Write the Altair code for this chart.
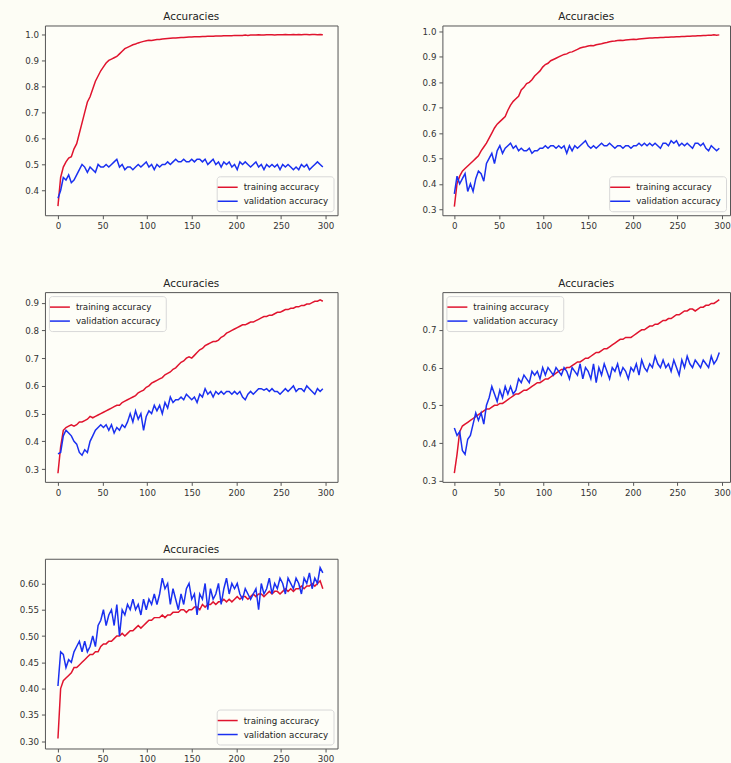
import altair as alt
import pandas as pd

epochs = list(range(0, 300, 3))
series_names = ["training accuracy", "validation accuracy"]
x_ticks = [0, 50, 100, 150, 200, 250, 300]

train_1 = [
    0.34, 0.45, 0.49, 0.51, 0.525, 0.53, 0.56, 0.58, 0.62, 0.66,
    0.70, 0.74, 0.76, 0.79, 0.82, 0.84, 0.86, 0.875, 0.89, 0.90,
    0.905, 0.91, 0.915, 0.925, 0.935, 0.945, 0.95, 0.955, 0.96, 0.963,
    0.967, 0.97, 0.973, 0.975, 0.977, 0.976, 0.978, 0.98, 0.98, 0.982,
    0.983, 0.984, 0.985, 0.986, 0.986, 0.987, 0.988, 0.988, 0.989, 0.99,
    0.99, 0.991, 0.991, 0.991, 0.992, 0.992, 0.993, 0.993, 0.993, 0.994,
    0.994, 0.994, 0.995, 0.995, 0.995, 0.995, 0.996, 0.996, 0.996, 0.996,
    0.997, 0.996, 0.997, 0.997, 0.997, 0.998, 0.997, 0.997, 0.998, 0.998,
    0.998, 0.997, 0.998, 0.998, 0.998, 0.999, 0.998, 0.998, 0.999, 0.998,
    0.999, 0.998, 0.999, 0.999, 0.998, 0.999, 0.999, 0.998, 0.999, 0.998,
]
val_1 = [
    0.37, 0.40, 0.45, 0.44, 0.46, 0.43, 0.44, 0.46, 0.48, 0.50,
    0.49, 0.47, 0.49, 0.48, 0.47, 0.50, 0.49, 0.49, 0.50, 0.49,
    0.50, 0.51, 0.52, 0.49, 0.50, 0.48, 0.49, 0.49, 0.48, 0.49,
    0.50, 0.49, 0.50, 0.51, 0.49, 0.50, 0.48, 0.50, 0.49, 0.50,
    0.50, 0.51, 0.50, 0.51, 0.52, 0.51, 0.51, 0.52, 0.51, 0.51,
    0.52, 0.51, 0.52, 0.52, 0.51, 0.52, 0.50, 0.51, 0.52, 0.50,
    0.51, 0.49, 0.51, 0.50, 0.51, 0.49, 0.50, 0.48, 0.51, 0.50,
    0.51, 0.50, 0.49, 0.50, 0.51, 0.49, 0.50, 0.48, 0.50, 0.49,
    0.50, 0.49, 0.50, 0.48, 0.50, 0.49, 0.50, 0.49, 0.48, 0.49,
    0.48, 0.50, 0.49, 0.50, 0.48, 0.49, 0.50, 0.51, 0.50, 0.49,
]

train_2 = [
    0.31, 0.40, 0.43, 0.45, 0.46, 0.47, 0.48, 0.49, 0.50, 0.51,
    0.53, 0.545, 0.56, 0.58, 0.60, 0.62, 0.635, 0.645, 0.655, 0.665,
    0.69, 0.71, 0.725, 0.735, 0.745, 0.77, 0.78, 0.795, 0.80, 0.81,
    0.825, 0.835, 0.845, 0.86, 0.87, 0.875, 0.885, 0.89, 0.895, 0.90,
    0.905, 0.91, 0.912, 0.918, 0.92, 0.925, 0.93, 0.935, 0.938, 0.94,
    0.943, 0.945, 0.944, 0.948, 0.95, 0.952, 0.955, 0.957, 0.96, 0.962,
    0.963, 0.965, 0.966, 0.965, 0.967, 0.968, 0.969, 0.97, 0.969, 0.971,
    0.972, 0.973, 0.974, 0.975, 0.975, 0.976, 0.976, 0.977, 0.977, 0.978,
    0.978, 0.979, 0.979, 0.98, 0.98, 0.981, 0.981, 0.982, 0.982, 0.983,
    0.983, 0.984, 0.984, 0.985, 0.985, 0.986, 0.986, 0.987, 0.986, 0.987,
]
val_2 = [
    0.36, 0.43, 0.40, 0.42, 0.44, 0.37, 0.40, 0.37, 0.42, 0.45,
    0.44, 0.41, 0.48, 0.50, 0.52, 0.48, 0.53, 0.55, 0.52, 0.54,
    0.55, 0.56, 0.54, 0.55, 0.53, 0.54, 0.53, 0.53, 0.54, 0.52,
    0.53, 0.53, 0.54, 0.54, 0.55, 0.54, 0.55, 0.55, 0.54, 0.55,
    0.54, 0.55, 0.52, 0.55, 0.53, 0.55, 0.54, 0.55, 0.56, 0.57,
    0.55, 0.54, 0.55, 0.54, 0.55, 0.56, 0.55, 0.55, 0.56, 0.55,
    0.54, 0.55, 0.55, 0.54, 0.55, 0.55, 0.54, 0.55, 0.55, 0.56,
    0.55, 0.56, 0.55, 0.56, 0.55, 0.56, 0.55, 0.54, 0.56, 0.56,
    0.55, 0.57, 0.56, 0.57, 0.55, 0.56, 0.55, 0.56, 0.55, 0.54,
    0.56, 0.56, 0.55, 0.56, 0.54, 0.53, 0.55, 0.54, 0.53, 0.54,
]

train_3 = [
    0.285, 0.38, 0.44, 0.45, 0.455, 0.46, 0.455, 0.46, 0.47, 0.47,
    0.475, 0.48, 0.49, 0.485, 0.49, 0.495, 0.50, 0.505, 0.51, 0.515,
    0.52, 0.525, 0.53, 0.53, 0.54, 0.545, 0.55, 0.555, 0.56, 0.565,
    0.575, 0.58, 0.585, 0.595, 0.60, 0.61, 0.615, 0.62, 0.625, 0.63,
    0.64, 0.645, 0.65, 0.66, 0.665, 0.675, 0.685, 0.69, 0.70, 0.705,
    0.70, 0.71, 0.72, 0.73, 0.735, 0.745, 0.75, 0.755, 0.76, 0.76,
    0.765, 0.775, 0.78, 0.79, 0.795, 0.80, 0.805, 0.81, 0.815, 0.82,
    0.82, 0.825, 0.83, 0.83, 0.835, 0.84, 0.845, 0.85, 0.85, 0.855,
    0.855, 0.86, 0.865, 0.865, 0.87, 0.875, 0.875, 0.88, 0.88, 0.885,
    0.885, 0.89, 0.89, 0.895, 0.895, 0.90, 0.905, 0.905, 0.91, 0.905,
]
val_3 = [
    0.355, 0.36, 0.42, 0.44, 0.43, 0.42, 0.40, 0.39, 0.36, 0.35,
    0.37, 0.36, 0.40, 0.42, 0.44, 0.45, 0.46, 0.45, 0.46, 0.44,
    0.46, 0.43, 0.45, 0.44, 0.46, 0.45, 0.47, 0.50, 0.47, 0.51,
    0.48, 0.50, 0.44, 0.49, 0.51, 0.50, 0.53, 0.51, 0.53, 0.50,
    0.54, 0.52, 0.56, 0.54, 0.55, 0.55, 0.56, 0.55, 0.57, 0.56,
    0.55, 0.56, 0.54, 0.57, 0.56, 0.59, 0.57, 0.58, 0.56, 0.58,
    0.57, 0.58, 0.57, 0.58, 0.58, 0.57, 0.58, 0.57, 0.58, 0.56,
    0.55, 0.57, 0.58, 0.57, 0.58, 0.59, 0.59, 0.585, 0.59, 0.58,
    0.59, 0.58, 0.58, 0.57, 0.58, 0.59, 0.58, 0.59, 0.60, 0.58,
    0.59, 0.59, 0.58, 0.60, 0.59, 0.58, 0.57, 0.59, 0.58, 0.59,
]

train_4 = [
    0.32, 0.37, 0.43, 0.445, 0.45, 0.455, 0.46, 0.465, 0.47, 0.475,
    0.48, 0.485, 0.49, 0.49, 0.495, 0.50, 0.50, 0.505, 0.505, 0.51,
    0.515, 0.52, 0.525, 0.53, 0.53, 0.535, 0.54, 0.54, 0.545, 0.55,
    0.555, 0.56, 0.56, 0.565, 0.57, 0.57, 0.575, 0.58, 0.585, 0.59,
    0.595, 0.595, 0.60, 0.60, 0.605, 0.61, 0.615, 0.615, 0.62, 0.625,
    0.625, 0.63, 0.635, 0.64, 0.64, 0.645, 0.65, 0.65, 0.655, 0.66,
    0.665, 0.67, 0.675, 0.675, 0.68, 0.68, 0.68, 0.685, 0.69, 0.695,
    0.70, 0.70, 0.705, 0.71, 0.71, 0.715, 0.715, 0.72, 0.725, 0.725,
    0.73, 0.73, 0.735, 0.74, 0.74, 0.745, 0.75, 0.75, 0.755, 0.755,
    0.75, 0.755, 0.76, 0.76, 0.765, 0.765, 0.77, 0.77, 0.775, 0.78,
]
val_4 = [
    0.44, 0.42, 0.43, 0.38, 0.37, 0.41, 0.42, 0.45, 0.48, 0.46,
    0.48, 0.45, 0.50, 0.52, 0.55, 0.53, 0.51, 0.54, 0.52, 0.55,
    0.53, 0.55, 0.53, 0.54, 0.57, 0.56, 0.58, 0.57, 0.56, 0.59,
    0.58, 0.59, 0.57, 0.60, 0.58, 0.60, 0.59, 0.58, 0.60, 0.59,
    0.58, 0.60, 0.59, 0.57, 0.60, 0.59, 0.58, 0.61, 0.57, 0.60,
    0.59, 0.57, 0.61, 0.56, 0.60, 0.58, 0.61, 0.59, 0.57, 0.60,
    0.59, 0.61, 0.58, 0.60, 0.59, 0.57, 0.60, 0.59, 0.61, 0.58,
    0.62, 0.60, 0.59, 0.61, 0.60, 0.63, 0.61, 0.60, 0.62, 0.60,
    0.61, 0.59, 0.62, 0.60, 0.58, 0.62, 0.60, 0.63, 0.61, 0.60,
    0.62, 0.61, 0.60, 0.62, 0.61, 0.60, 0.63, 0.61, 0.62, 0.64,
]

train_5 = [
    0.305, 0.40, 0.415, 0.42, 0.425, 0.43, 0.44, 0.44, 0.445, 0.45,
    0.455, 0.46, 0.465, 0.465, 0.47, 0.47, 0.48, 0.485, 0.485, 0.49,
    0.49, 0.495, 0.50, 0.50, 0.505, 0.50, 0.505, 0.51, 0.51, 0.515,
    0.52, 0.515, 0.52, 0.525, 0.53, 0.53, 0.535, 0.535, 0.535, 0.54,
    0.535, 0.54, 0.54, 0.545, 0.545, 0.545, 0.55, 0.55, 0.545, 0.55,
    0.55, 0.555, 0.555, 0.55, 0.56, 0.555, 0.56, 0.56, 0.565, 0.56,
    0.565, 0.565, 0.57, 0.565, 0.57, 0.565, 0.57, 0.575, 0.57, 0.575,
    0.575, 0.57, 0.575, 0.58, 0.575, 0.58, 0.58, 0.575, 0.58, 0.585,
    0.58, 0.585, 0.585, 0.58, 0.585, 0.59, 0.585, 0.59, 0.585, 0.59,
    0.59, 0.595, 0.59, 0.595, 0.595, 0.60, 0.595, 0.60, 0.605, 0.59,
]
val_5 = [
    0.405, 0.47, 0.465, 0.44, 0.455, 0.45, 0.47, 0.48, 0.49, 0.47,
    0.49, 0.47, 0.48, 0.50, 0.48, 0.52, 0.53, 0.55, 0.52, 0.54,
    0.55, 0.52, 0.56, 0.50, 0.55, 0.54, 0.56, 0.55, 0.57, 0.55,
    0.56, 0.54, 0.57, 0.55, 0.57, 0.56, 0.58, 0.56, 0.58, 0.61,
    0.59, 0.60, 0.56, 0.59, 0.57, 0.55, 0.58, 0.56, 0.59, 0.60,
    0.57, 0.58, 0.54, 0.58, 0.57, 0.60, 0.55, 0.59, 0.57, 0.58,
    0.60, 0.56, 0.59, 0.61, 0.58, 0.60, 0.59, 0.60, 0.58, 0.57,
    0.59, 0.58, 0.57, 0.58, 0.59, 0.55, 0.60, 0.58, 0.59, 0.61,
    0.58, 0.60, 0.59, 0.61, 0.60, 0.58, 0.61, 0.60, 0.59, 0.61,
    0.60, 0.58, 0.61, 0.60, 0.62, 0.59, 0.61, 0.60, 0.63, 0.62,
]

RED = "#e0142e"
BLUE = "#1a30f0"
FONT = "DejaVu Sans"


def panel(train, val, ydom, yticks, yfmt, orient, width, xdom, height=190):
    df = pd.DataFrame({
        "epoch": epochs + epochs,
        "acc": train + val,
        "series": [series_names[0]] * len(train) + [series_names[1]] * len(val),
    })
    return (
        alt.Chart(df, title=alt.Title("Accuracies"))
        .mark_line(strokeWidth=1.5, clip=True)
        .encode(
            x=alt.X("epoch:Q",
                    scale=alt.Scale(domain=xdom, nice=False, zero=False),
                    axis=alt.Axis(values=x_ticks, format="d", title=None)),
            y=alt.Y("acc:Q",
                    scale=alt.Scale(domain=ydom, nice=False, zero=False),
                    axis=alt.Axis(values=yticks, format=yfmt, title=None)),
            color=alt.Color("series:N",
                            scale=alt.Scale(domain=series_names, range=[RED, BLUE]),
                            legend=alt.Legend(orient=orient, title=None)),
        )
        .properties(width=width, height=height)
    )


LX = [-14.6, 313.5]
RX = [-13.4, 309.0]

p1 = panel(train_1, val_1, [0.305, 1.034], [0.4, 0.5, 0.6, 0.7, 0.8, 0.9, 1.0], ".1f", "bottom-right", 293, LX)
p2 = panel(train_2, val_2, [0.276, 1.024], [0.3, 0.4, 0.5, 0.6, 0.7, 0.8, 0.9, 1.0], ".1f", "bottom-right", 288, RX)
p3 = panel(train_3, val_3, [0.254, 0.938], [0.3, 0.4, 0.5, 0.6, 0.7, 0.8, 0.9], ".1f", "top-left", 293, LX)
p4 = panel(train_4, val_4, [0.297, 0.800], [0.3, 0.4, 0.5, 0.6, 0.7], ".1f", "top-left", 288, RX)
p5 = panel(train_5, val_5, [0.286, 0.647], [0.30, 0.35, 0.40, 0.45, 0.50, 0.55, 0.60], ".2f", "bottom-right", 293, LX)

chart = (
    alt.concat(p1, p2, p3, p4, p5, columns=2, spacing={"row": 77, "column": 105},
               bounds="flush", align="each")
    .resolve_scale(x="independent", y="independent", color="independent")
    .resolve_legend(color="independent")
    .properties(background="#fdfdf5", padding={"left": 18, "top": 11, "right": 0, "bottom": 0})
    .configure_view(stroke="#555555", strokeWidth=1, fill="#fefef8")
    .configure_axis(domain=False, grid=False, tickColor="#555555", tickSize=3.5,
                    labelFont=FONT, labelFontSize=8.7, labelColor="#333333", labelPadding=3)
    .configure_title(font=FONT, fontSize=10.4, fontWeight="normal", color="#222222", offset=3)
    .configure_legend(symbolType="M-2,0H2", symbolSize=100, symbolStrokeWidth=1.5,
                      labelFont=FONT, labelFontSize=8.7, labelColor="#222222",
                      labelOffset=10, rowPadding=3, padding=5, offset=4,
                      fillColor="#fefef8", strokeColor="#d8d8d8", cornerRadius=3,
                      labelLimit=300)
)

chart.save("out.html", embed_options={"renderer": "svg", "actions": False})
